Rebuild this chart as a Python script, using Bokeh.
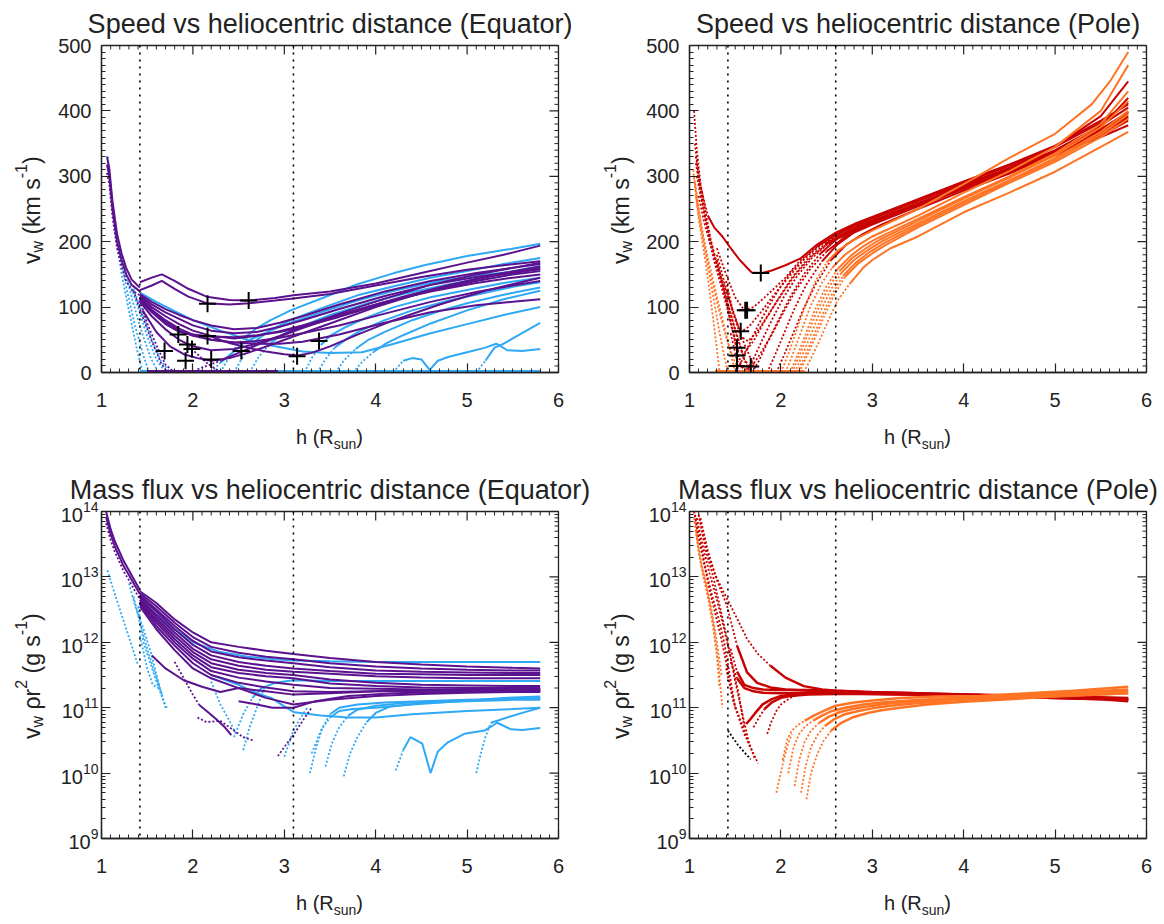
from math import pi
from bokeh.plotting import figure
from bokeh.models import Range1d, FixedTicker, Span, Div
from bokeh.layouts import column, row
from bokeh.embed import file_html
from bokeh.resources import INLINE

FONT = "Liberation Sans"
TXT = "#222222"
PURPLE = "#5b128e"
BLUE = "#2fa8f5"
RED = "#c80202"
ORANGE = "#ff7424"

# ======================= DATA =======================
# ---- Speed, equator (top left) ----
eq_sp_desc_h = [1.06, 1.085, 1.12, 1.17, 1.22, 1.27, 1.33, 1.42]
eq_sp_desc_v = [[330, 312, 262, 212, 182, 160, 142, 130],
                [318, 300, 250, 200, 172, 150, 134, 124],
                [305, 288, 238, 190, 162, 140, 126, 118]]
eq_sp_bdot_h = [[1.07, 1.15, 1.22, 1.3, 1.38, 1.45],
                [1.2, 1.28, 1.36, 1.45, 1.52],
                [1.25, 1.34, 1.44, 1.54, 1.62],
                [1.3, 1.4, 1.5, 1.6, 1.7],
                [1.35, 1.45, 1.55, 1.65, 1.75]]
eq_sp_bdot_v = [[330, 215, 150, 95, 40, 0],
                [180, 125, 75, 30, 0],
                [160, 110, 62, 22, 0],
                [140, 100, 55, 20, 0],
                [128, 90, 50, 18, 0]]
eq_sp_pdot_h = [[1.35, 1.45, 1.55, 1.65, 1.72],
                [1.42, 1.5, 1.6, 1.7, 1.8],
                [1.95, 2.05, 2.15, 2.25, 2.35]]
eq_sp_pdot_v = [[125, 85, 48, 15, 0],
                [110, 75, 42, 12, 0],
                [40, 28, 15, 5, 0]]
eq_sp_pur_h = [
    [1.42, 1.55, 1.66, 1.8, 1.95, 2.15, 2.4, 2.62, 2.9, 3.1, 3.5, 4.0, 4.5, 5.0, 5.4, 5.8],
    [1.42, 1.55, 1.66, 1.8, 1.95, 2.15, 2.4, 2.62, 2.9, 3.1, 3.5, 4.0, 4.5, 5.0, 5.4, 5.8],
    [1.42, 1.55, 1.7, 1.85, 2.0, 2.2, 2.45, 2.7, 2.95, 3.2, 3.6, 4.1, 4.6, 5.1, 5.5, 5.8],
    [1.42, 1.55, 1.7, 1.85, 2.0, 2.2, 2.45, 2.7, 2.95, 3.2, 3.6, 4.1, 4.6, 5.1, 5.5, 5.8],
    [1.42, 1.55, 1.7, 1.85, 2.0, 2.2, 2.45, 2.7, 2.95, 3.2, 3.6, 4.1, 4.6, 5.1, 5.5, 5.8],
    [1.42, 1.55, 1.7, 1.85, 2.0, 2.2, 2.45, 2.7, 2.95, 3.2, 3.6, 4.1, 4.6, 5.1, 5.5, 5.8],
    [1.42, 1.55, 1.7, 1.85, 2.0, 2.2, 2.45, 2.7, 2.95, 3.2, 3.6, 4.1, 4.6, 5.1, 5.5, 5.8],
    [1.42, 1.55, 1.7, 1.85, 2.0, 2.2, 2.45, 2.7, 2.95, 3.2, 3.6, 4.1, 4.6, 5.1, 5.5, 5.8],
    [1.42, 1.55, 1.7, 1.85, 2.0, 2.2, 2.45, 2.7, 2.95, 3.2, 3.6, 4.1, 4.6, 5.1, 5.5, 5.8],
    [1.45, 1.6, 1.75, 1.9, 2.05, 2.2, 2.4, 2.6, 2.85, 3.1, 3.5, 4.0, 4.5, 5.0, 5.4, 5.8],
    [2.05, 2.15, 2.3, 2.5, 2.7, 2.95, 3.2, 3.5, 3.9, 4.3, 4.8, 5.3, 5.8],
    [2.2, 2.4, 2.6, 2.8, 3.0, 3.15, 3.3, 3.5, 3.8, 4.2, 4.7, 5.2, 5.8],
]
eq_sp_pur_v = [
    [138, 145, 150, 140, 128, 116, 111, 110, 114, 118, 124, 136, 152, 168, 180, 194],
    [126, 133, 140, 128, 116, 106, 104, 106, 110, 113, 120, 133, 146, 157, 164, 170],
    [120, 108, 97, 88, 80, 72, 66, 68, 76, 86, 104, 124, 140, 152, 160, 166],
    [118, 104, 92, 82, 72, 64, 60, 62, 70, 80, 97, 117, 134, 146, 154, 160],
    [116, 100, 86, 74, 64, 56, 52, 56, 63, 72, 88, 108, 124, 137, 145, 150],
    [114, 96, 80, 67, 58, 50, 46, 48, 53, 60, 72, 90, 108, 123, 133, 140],
    [112, 94, 77, 64, 56, 50, 46, 44, 44, 47, 58, 76, 92, 103, 108, 112],
    [110, 92, 74, 62, 58, 55, 54, 57, 62, 70, 85, 106, 125, 140, 150, 155],
    [108, 86, 66, 50, 40, 34, 36, 44, 56, 70, 90, 113, 134, 150, 160, 168],
    [95, 62, 40, 28, 22, 18, 22, 30, 42, 55, 75, 100, 122, 140, 152, 162],
    [5, 10, 18, 30, 42, 55, 68, 82, 100, 116, 134, 148, 158],
    [55, 45, 38, 32, 28, 26, 30, 40, 58, 80, 104, 125, 145],
]
eq_sp_pur_dotted = [0, 0, 0, 0, 0, 0, 0, 0, 0, 0, 3, 0]
eq_sp_blu_h = [
    [1.42, 1.6, 1.8, 2.0, 2.3, 2.6, 2.9, 3.2, 3.5, 3.85, 4.2, 4.6, 5.0, 5.4, 5.8],
    [2.3, 2.42, 2.55, 2.7, 2.85, 3.07, 3.44, 3.8, 4.2, 4.53, 5.0, 5.48, 5.8],
    [2.45, 2.55, 2.68, 2.82, 2.95, 3.1, 3.44, 3.8, 4.2, 4.6, 5.0, 5.4, 5.8],
    [2.62, 2.72, 2.85, 2.98, 3.1, 3.25, 3.5, 3.9, 4.3, 4.7, 5.1, 5.5, 5.8],
    [3.22, 3.3, 3.4, 3.5, 3.65, 3.9, 4.2, 4.6, 5.0, 5.4, 5.8],
    [3.36, 3.45, 3.55, 3.7, 3.85, 4.1, 4.4, 4.8, 5.2, 5.5, 5.8],
    [3.56, 3.65, 3.78, 3.92, 4.1, 4.4, 4.7, 5.0, 5.4, 5.8],
    [3.75, 3.85, 3.98, 4.12, 4.3, 4.6, 5.0, 5.4, 5.8],
    [4.19, 4.3, 4.4, 4.5, 4.59, 4.68, 4.8, 5.0, 5.2, 5.32, 5.44, 5.6, 5.8],
    [5.1, 5.2, 5.3, 5.4, 5.5, 5.65, 5.8],
    [2.2, 2.3, 2.45, 2.56, 2.75, 2.95, 3.11, 3.4, 3.8, 4.2, 4.7, 5.2, 5.8],
]
eq_sp_blu_v = [
    [122, 108, 94, 80, 64, 50, 40, 32, 30, 31, 44, 60, 74, 88, 100],
    [0, 30, 52, 68, 80, 95, 115, 135, 152, 164, 178, 189, 197],
    [0, 25, 48, 62, 72, 82, 100, 118, 132, 145, 155, 166, 175],
    [0, 24, 45, 58, 66, 74, 88, 105, 120, 132, 143, 155, 163],
    [0, 22, 42, 56, 68, 84, 100, 115, 126, 137, 145],
    [0, 20, 38, 53, 65, 80, 95, 110, 122, 131, 138],
    [0, 18, 36, 50, 62, 80, 94, 106, 119, 130],
    [0, 16, 32, 45, 57, 75, 95, 112, 125],
    [0, 18, 22, 20, 4, 18, 24, 31, 38, 44, 34, 33, 36],
    [0, 18, 38, 44, 52, 64, 76],
    [0, 15, 32, 46, 58, 70, 78, 92, 110, 125, 140, 150, 158],
]
eq_sp_blu_dotted = [0, 3, 3, 3, 3, 3, 3, 3, 2, 2, 2]
eq_sp_zero_blue_h = [1.42, 5.8]
eq_sp_zero_pur_h = [1.5, 2.93]
eq_sp_cross_h = [2.16, 2.61, 1.84, 1.94, 1.99, 1.69, 1.92, 2.16, 2.2, 2.53, 3.14, 3.38]
eq_sp_cross_v = [105, 110, 58, 43, 36, 33, 18, 56, 20, 33, 25, 48]
eq_marks = [1.42, 3.1]

# ---- Speed, pole (top right) ----
po_sp_rdesc_h = [[1.05, 1.08, 1.12, 1.17, 1.23, 1.3, 1.38, 1.45, 1.52, 1.58],
                 [1.06, 1.1, 1.15, 1.2, 1.27, 1.34, 1.42, 1.48, 1.54],
                 [1.07, 1.11, 1.16, 1.22, 1.3, 1.38, 1.45, 1.52, 1.6, 1.66],
                 [1.08, 1.13, 1.19, 1.26, 1.33, 1.4, 1.47, 1.54, 1.6, 1.7],
                 [1.1, 1.16, 1.23, 1.31, 1.4, 1.5, 1.58, 1.68, 1.75]]
po_sp_rdesc_v = [[400, 340, 290, 250, 205, 165, 120, 80, 40, 0],
                 [350, 300, 255, 215, 170, 135, 95, 60, 20],
                 [320, 285, 245, 205, 165, 125, 90, 55, 20, 0],
                 [300, 265, 225, 185, 150, 115, 80, 48, 20, 0],
                 [270, 230, 195, 160, 125, 85, 50, 18, 0]]
po_sp_odesc_h = [[1.04, 1.07, 1.1, 1.14, 1.18, 1.22, 1.26, 1.3, 1.33],
                 [1.05, 1.09, 1.13, 1.18, 1.23, 1.28, 1.33, 1.38, 1.42],
                 [1.06, 1.1, 1.15, 1.2, 1.26, 1.32, 1.38, 1.44, 1.5],
                 [1.07, 1.12, 1.17, 1.22, 1.28, 1.34, 1.4, 1.47, 1.55]]
po_sp_odesc_v = [[310, 270, 235, 200, 165, 125, 80, 35, 0],
                 [300, 260, 222, 180, 140, 100, 60, 25, 0],
                 [290, 250, 210, 175, 140, 105, 70, 35, 0],
                 [270, 225, 190, 155, 120, 85, 55, 25, 0]]
po_sp_red_h = [
    [1.07, 1.12, 1.2, 1.27, 1.36, 1.44, 1.55, 1.68, 1.79, 1.9, 2.05, 2.21, 2.4, 2.6, 2.8, 3.0, 3.5, 4.0, 4.5, 5.0, 5.5, 5.8],
    [1.3, 1.4, 1.5, 1.6, 1.7, 1.8, 1.9, 2.05, 2.2, 2.4, 2.6, 2.8, 3.0, 3.5, 4.0, 4.5, 5.0, 5.5, 5.8],
    [1.3, 1.4, 1.48, 1.56, 1.65, 1.78, 1.92, 2.08, 2.25, 2.42, 2.6, 2.8, 3.0, 3.5, 4.0, 4.5, 5.0, 5.5, 5.8],
    [1.3, 1.38, 1.45, 1.52, 1.6, 1.7, 1.82, 1.96, 2.12, 2.3, 2.48, 2.65, 2.85, 3.0, 3.5, 4.0, 4.5, 5.0, 5.5, 5.8],
    [1.45, 1.52, 1.6, 1.68, 1.78, 1.9, 2.02, 2.16, 2.32, 2.5, 2.68, 2.85, 3.0, 3.5, 4.0, 4.5, 5.0, 5.5, 5.8],
    [1.68, 1.76, 1.86, 1.98, 2.1, 2.25, 2.42, 2.6, 2.8, 3.0, 3.5, 4.0, 4.5, 5.0, 5.5, 5.8],
    [1.85, 1.93, 2.02, 2.14, 2.28, 2.45, 2.62, 2.8, 3.0, 3.5, 4.0, 4.5, 5.0, 5.5, 5.8],
    [1.95, 2.03, 2.12, 2.24, 2.38, 2.55, 2.72, 2.9, 3.1, 3.5, 4.0, 4.5, 5.0, 5.5, 5.8],
    [1.5, 1.58, 1.66, 1.75, 1.86, 1.98, 2.12, 2.28, 2.45, 2.62, 2.8, 3.0, 3.5, 4.0, 4.5, 5.0, 5.5, 5.8],
    [1.6, 1.68, 1.78, 1.9, 2.03, 2.18, 2.34, 2.5, 2.66, 2.85, 3.0, 3.5, 4.0, 4.5, 5.0, 5.5, 5.8],
    [1.4, 1.48, 1.56, 1.64, 1.74, 1.86, 2.0, 2.16, 2.34, 2.52, 2.7, 2.9, 3.1, 3.5, 4.0, 4.5, 5.0, 5.5, 5.8],
]
po_sp_red_v = [
    [330, 285, 240, 222, 208, 192, 172, 153, 152, 156, 164, 174, 196, 214, 227, 238, 265, 292, 318, 347, 385, 410],
    [190, 150, 115, 95, 100, 112, 125, 145, 170, 193, 211, 225, 237, 264, 290, 316, 345, 382, 412],
    [180, 128, 90, 62, 70, 92, 118, 145, 172, 195, 210, 224, 235, 262, 288, 312, 338, 370, 392],
    [172, 125, 75, 35, 30, 48, 78, 110, 145, 175, 196, 210, 224, 232, 259, 284, 309, 334, 360, 378],
    [60, 18, 4, 9, 30, 58, 90, 125, 158, 185, 205, 218, 228, 256, 282, 307, 332, 362, 385],
    [0, 18, 48, 82, 115, 150, 180, 203, 219, 230, 258, 286, 313, 345, 392, 445],
    [0, 25, 55, 95, 135, 170, 196, 214, 226, 254, 281, 306, 333, 368, 398],
    [0, 25, 55, 95, 135, 172, 196, 212, 226, 250, 278, 304, 335, 375, 420],
    [0, 20, 45, 72, 100, 128, 155, 178, 196, 208, 220, 231, 258, 284, 310, 338, 372, 398],
    [0, 15, 45, 80, 115, 148, 175, 195, 207, 220, 229, 256, 283, 309, 337, 365, 390],
    [140, 90, 55, 48, 62, 88, 118, 150, 178, 198, 212, 224, 234, 258, 285, 311, 340, 378, 405],
]
po_sp_red_dotted = [3, 10, 10, 11, 10, 7, 6, 6, 10, 9, 10]
po_sp_ora_h = [
    [2.0, 2.08, 2.16, 2.26, 2.38, 2.5, 2.62, 2.8, 3.0, 3.5, 4.0, 4.5, 5.0, 5.4, 5.6, 5.8],
    [2.05, 2.13, 2.22, 2.32, 2.44, 2.56, 2.7, 2.85, 3.0, 3.5, 4.0, 4.5, 5.0, 5.5, 5.8],
    [2.1, 2.18, 2.27, 2.37, 2.49, 2.62, 2.76, 2.9, 3.05, 3.5, 4.0, 4.5, 5.0, 5.5, 5.8],
    [2.15, 2.23, 2.32, 2.42, 2.54, 2.66, 2.8, 2.95, 3.1, 3.5, 4.0, 4.5, 5.0, 5.5, 5.8],
    [2.2, 2.28, 2.37, 2.47, 2.58, 2.7, 2.84, 3.0, 3.15, 3.5, 4.0, 4.5, 5.0, 5.5, 5.8],
    [2.25, 2.33, 2.42, 2.52, 2.62, 2.75, 2.9, 3.0, 3.2, 3.5, 4.0, 4.5, 5.0, 5.5, 5.8],
    [2.12, 2.2, 2.29, 2.39, 2.51, 2.64, 2.78, 2.93, 3.08, 3.5, 4.0, 4.5, 5.0, 5.5, 5.8],
    [2.18, 2.26, 2.35, 2.45, 2.56, 2.68, 2.82, 2.97, 3.12, 3.5, 4.0, 4.5, 5.0, 5.5, 5.8],
]
po_sp_ora_v = [
    [0, 28, 60, 100, 140, 168, 186, 203, 217, 250, 288, 328, 365, 410, 445, 490],
    [0, 28, 62, 100, 135, 160, 180, 195, 208, 240, 275, 308, 345, 400, 470],
    [0, 26, 58, 95, 130, 158, 178, 193, 205, 235, 268, 300, 335, 380, 430],
    [0, 25, 55, 90, 125, 152, 172, 187, 200, 228, 262, 294, 328, 368, 400],
    [0, 24, 52, 85, 118, 146, 166, 182, 195, 222, 256, 290, 322, 360, 388],
    [0, 22, 48, 80, 110, 135, 160, 172, 190, 208, 245, 275, 307, 345, 368],
    [0, 25, 57, 92, 127, 155, 175, 190, 203, 232, 266, 298, 332, 375, 415],
    [0, 24, 53, 87, 120, 148, 168, 184, 197, 225, 259, 292, 325, 364, 395],
]
po_sp_ora_dotted = [6, 6, 6, 6, 6, 6, 6, 6]
po_sp_zero_ora_h = [1.28, 2.25]
po_sp_cross_h = [1.78, 1.61, 1.63, 1.56, 1.52, 1.52, 1.52, 1.67]
po_sp_cross_v = [152, 95, 95, 63, 38, 26, 10, 9]
po_marks = [1.42, 2.6]

# ---- Mass flux, equator (bottom left), log10 of g/s ----
eq_mf_desc_h = [1.05, 1.1, 1.15, 1.19, 1.24, 1.3, 1.36, 1.42]
eq_mf_desc_lg = [[14.0, 13.73, 13.53, 13.41, 13.25, 13.1, 12.95, 12.8],
                 [13.92, 13.65, 13.45, 13.33, 13.17, 13.03, 12.88, 12.74],
                 [13.82, 13.56, 13.37, 13.25, 13.09, 12.95, 12.8, 12.66]]
eq_mf_bdot_h = [[1.065, 1.12, 1.19, 1.26, 1.33, 1.4],
                [1.3, 1.38, 1.46, 1.55, 1.62, 1.7],
                [1.35, 1.42, 1.5, 1.58, 1.66],
                [1.4, 1.46, 1.53, 1.6, 1.68, 1.72],
                [1.42, 1.5, 1.56, 1.62],
                [2.2, 2.3, 2.4, 2.47],
                [2.55, 2.62, 2.7, 2.78],
                [3.0, 3.05, 3.1, 3.18, 3.25]]
eq_mf_bdot_lg = [[13.1, 12.85, 12.55, 12.25, 11.95, 11.65],
                 [12.9, 12.5, 12.2, 11.8, 11.4, 11.0],
                 [12.7, 12.3, 11.9, 11.55, 11.2],
                 [12.55, 12.0, 11.7, 11.4, 11.1, 10.98],
                 [12.1, 11.6, 11.35, 11.3],
                 [11.4, 11.05, 10.8, 10.6],
                 [10.35, 10.7, 11.0, 11.3],
                 [10.25, 10.45, 10.65, 10.85, 11.0]]
eq_mf_pur_h = [
    [1.42, 1.6, 1.8, 2.0, 2.2, 2.5, 2.8, 3.1, 3.5, 4.0, 4.5, 5.0, 5.5, 5.8],
    [1.42, 1.6, 1.8, 2.0, 2.2, 2.5, 2.8, 3.1, 3.5, 4.0, 4.5, 5.0, 5.5, 5.8],
    [1.42, 1.6, 1.8, 2.0, 2.2, 2.5, 2.8, 3.1, 3.5, 4.0, 4.5, 5.0, 5.5, 5.8],
    [1.42, 1.6, 1.8, 2.0, 2.2, 2.5, 2.8, 3.1, 3.5, 4.0, 4.5, 5.0, 5.5, 5.8],
    [1.42, 1.6, 1.8, 2.0, 2.2, 2.5, 2.8, 3.1, 3.5, 4.0, 4.5, 5.0, 5.5, 5.8],
    [1.42, 1.6, 1.8, 2.0, 2.2, 2.5, 2.8, 3.1, 3.5, 4.0, 4.5, 5.0, 5.5, 5.8],
    [1.42, 1.6, 1.8, 2.0, 2.2, 2.5, 2.8, 3.1, 3.5, 4.0, 4.5, 5.0, 5.5, 5.8],
    [1.42, 1.6, 1.8, 2.0, 2.2, 2.5, 2.8, 3.1, 3.5, 4.0, 4.5, 5.0, 5.5, 5.8],
    [1.42, 1.6, 1.8, 2.0, 2.2, 2.5, 2.8, 3.1, 3.5, 4.0, 4.5, 5.0, 5.5, 5.8],
    [1.42, 1.6, 1.8, 2.0, 2.2, 2.5, 2.8, 3.1, 3.5, 4.0, 4.5, 5.0, 5.5, 5.8],
    [1.55, 1.7, 1.9, 2.1, 2.3, 2.5, 2.8, 3.1, 3.5, 4.0, 4.5, 5.0, 5.5, 5.8],
    [1.8, 1.9, 2.0, 2.07, 2.15, 2.25, 2.35, 2.42],
    [2.05, 2.15, 2.3, 2.45, 2.55, 2.66],
    [2.93, 3.0, 3.1, 3.2, 3.3],
    [2.5, 2.7, 2.87, 3.1, 3.34, 3.7, 4.2, 4.8, 5.4, 5.8],
]
eq_mf_pur_lg = [
    [12.78, 12.6, 12.35, 12.15, 12.0, 11.93, 11.87, 11.82, 11.76, 11.7, 11.66, 11.63, 11.61, 11.6],
    [12.75, 12.55, 12.3, 12.08, 11.93, 11.84, 11.78, 11.74, 11.68, 11.63, 11.6, 11.58, 11.57, 11.57],
    [12.72, 12.5, 12.25, 12.02, 11.86, 11.77, 11.72, 11.68, 11.62, 11.57, 11.55, 11.54, 11.53, 11.53],
    [12.7, 12.47, 12.2, 11.96, 11.8, 11.7, 11.64, 11.6, 11.56, 11.52, 11.51, 11.5, 11.5, 11.5],
    [12.68, 12.42, 12.15, 11.9, 11.74, 11.64, 11.58, 11.55, 11.52, 11.48, 11.46, 11.45, 11.45, 11.45],
    [12.65, 12.38, 12.1, 11.85, 11.68, 11.58, 11.53, 11.5, 11.43, 11.38, 11.35, 11.34, 11.33, 11.33],
    [12.62, 12.34, 12.05, 11.8, 11.62, 11.53, 11.48, 11.45, 11.37, 11.33, 11.31, 11.3, 11.3, 11.3],
    [12.6, 12.3, 12.0, 11.75, 11.56, 11.46, 11.4, 11.35, 11.3, 11.29, 11.28, 11.28, 11.28, 11.28],
    [12.58, 12.25, 11.95, 11.68, 11.5, 11.38, 11.31, 11.25, 11.24, 11.25, 11.26, 11.26, 11.26, 11.26],
    [12.55, 12.2, 11.88, 11.6, 11.45, 11.3, 11.15, 11.05, 11.12, 11.18, 11.21, 11.23, 11.24, 11.24],
    [11.8, 11.6, 11.42, 11.32, 11.24, 11.3, 11.25, 11.2, 11.22, 11.25, 11.26, 11.27, 11.28, 11.28],
    [11.7, 11.45, 11.2, 11.04, 10.95, 10.83, 10.7, 10.58],
    [10.85, 10.78, 10.8, 10.65, 10.55, 10.5],
    [10.26, 10.4, 10.58, 10.8, 11.0],
    [11.1, 11.05, 11.0, 11.0, 11.1, 11.18, 11.22, 11.24, 11.25, 11.25],
]
eq_mf_pur_dotted = [0, 0, 0, 0, 0, 0, 0, 0, 0, 0, 0, 4, 99, 99, 0]
eq_mf_blu_h = [
    [1.42, 1.7, 2.0, 2.3, 2.6, 2.9, 3.1, 3.5, 4.0, 4.5, 5.0, 5.5, 5.8],
    [3.28, 3.35, 3.42, 3.5, 3.6, 3.8, 4.1, 4.5, 5.0, 5.4, 5.8],
    [3.45, 3.52, 3.6, 3.7, 3.8, 4.0, 4.3, 4.7, 5.2, 5.8],
    [3.65, 3.72, 3.8, 3.9, 4.0, 4.16, 4.5, 5.0, 5.5, 5.8],
    [3.3, 3.4, 3.5, 3.6, 3.75, 4.0, 4.4, 4.9, 5.4, 5.8],
    [2.2, 2.5, 2.7, 2.87, 3.0, 3.11, 3.4, 3.7, 4.0, 4.4, 5.0, 5.5, 5.8],
    [4.22, 4.3, 4.38, 4.51, 4.56, 4.6, 4.68, 4.79, 4.97, 5.19, 5.33, 5.48, 5.6, 5.8],
    [5.1, 5.15, 5.2, 5.26, 5.33, 5.48, 5.65, 5.8],
    [2.45, 2.55, 2.65, 2.75, 2.9, 3.1, 3.5, 4.0, 5.0, 5.8],
]
eq_mf_blu_lg = [
    [12.65, 12.3, 12.0, 11.85, 11.78, 11.74, 11.72, 11.71, 11.7, 11.7, 11.7, 11.7, 11.7],
    [10.0, 10.4, 10.7, 10.9, 11.0, 11.05, 11.08, 11.1, 11.12, 11.13, 11.15],
    [10.1, 10.45, 10.7, 10.88, 10.97, 11.03, 11.07, 11.1, 11.12, 11.14],
    [9.95, 10.3, 10.55, 10.78, 10.92, 11.02, 11.07, 11.1, 11.12, 11.12],
    [10.3, 10.65, 10.85, 10.95, 10.98, 11.0, 11.05, 11.1, 11.15, 11.17],
    [11.5, 11.35, 11.22, 11.14, 11.02, 10.93, 10.88, 10.85, 10.85, 10.9, 10.95, 10.98, 11.0],
    [10.04, 10.35, 10.55, 10.45, 10.2, 10.0, 10.33, 10.47, 10.6, 10.65, 10.77, 10.67, 10.66, 10.69],
    [10.0, 10.3, 10.55, 10.77, 10.8, 10.87, 10.94, 11.0],
    [10.55, 10.9, 11.15, 11.3, 11.38, 11.42, 11.41, 11.41, 11.41, 11.41],
]
eq_mf_blu_dotted = [0, 4, 4, 4, 3, 0, 2, 4, 3]

# ---- Mass flux, pole (bottom right), log10 of g/s ----
po_mf_rdesc_h = [[1.05, 1.1, 1.16, 1.22, 1.28, 1.34, 1.4, 1.45],
                 [1.06, 1.12, 1.18, 1.25, 1.32, 1.38, 1.44, 1.5],
                 [1.08, 1.15, 1.22, 1.3, 1.38, 1.46, 1.54, 1.6],
                 [1.1, 1.18, 1.26, 1.34, 1.42, 1.5, 1.58, 1.66],
                 [1.45, 1.5, 1.55, 1.6, 1.65, 1.7, 1.75],
                 [1.4, 1.48, 1.56, 1.64, 1.72],
                 [1.85, 1.9, 1.95, 2.0, 2.1, 2.2, 2.4]]
po_mf_rdesc_lg = [[14.0, 13.6, 13.2, 12.8, 12.45, 12.1, 11.7, 11.3],
                  [13.95, 13.55, 13.1, 12.7, 12.35, 12.0, 11.5, 11.0],
                  [13.9, 13.45, 13.05, 12.65, 12.2, 11.7, 11.2, 10.7],
                  [13.95, 13.4, 13.0, 12.5, 12.0, 11.4, 10.9, 10.4],
                  [11.3, 11.0, 10.8, 10.6, 10.45, 10.3, 10.15],
                  [11.6, 11.1, 10.8, 10.5, 10.2],
                  [10.6, 10.8, 10.95, 11.05, 11.15, 11.2, 11.22]]
po_mf_odesc_h = [[1.05, 1.1, 1.15, 1.2, 1.25, 1.3, 1.33],
                 [1.06, 1.11, 1.17, 1.22, 1.27, 1.32, 1.36],
                 [1.07, 1.13, 1.19, 1.24, 1.3, 1.35]]
po_mf_odesc_lg = [[13.9, 13.4, 13.0, 12.7, 12.3, 11.8, 11.3],
                  [13.85, 13.3, 12.95, 12.6, 12.2, 11.6, 11.0],
                  [13.7, 13.2, 12.85, 12.5, 12.0, 11.5]]
po_mf_black_h = [1.42, 1.47, 1.53, 1.6, 1.67]
po_mf_black_lg = [10.65, 10.55, 10.43, 10.32, 10.21]
po_mf_red_h = [
    [1.1, 1.2, 1.27, 1.36, 1.45, 1.55, 1.63, 1.75, 1.886, 2.05, 2.25, 2.45, 2.6, 2.9, 3.5, 4.0, 4.5, 5.0, 5.5, 5.8],
    [1.12, 1.2, 1.3, 1.41, 1.52, 1.63, 1.74, 1.886, 2.05, 2.3, 2.6, 3.0, 3.5, 4.0, 4.5, 5.0, 5.5, 5.8],
    [1.45, 1.52, 1.6, 1.7, 1.8, 2.0, 2.3, 2.6, 3.0, 3.5, 4.0, 4.5, 5.0, 5.5, 5.8],
    [1.45, 1.52, 1.6, 1.7, 1.8, 2.0, 2.3, 2.6, 3.0, 3.5, 4.0, 4.5, 5.0, 5.5, 5.8],
    [1.62, 1.67, 1.72, 1.8, 1.9, 2.0, 2.2, 2.5, 2.8, 3.2, 3.7, 4.2, 4.7, 5.2, 5.8],
    [1.7, 1.76, 1.82, 1.9, 2.0, 2.1, 2.3, 2.6, 3.0, 3.5, 4.0, 4.5, 5.0, 5.5, 5.8],
]
po_mf_red_lg = [
    [13.95, 13.35, 13.07, 12.8, 12.56, 12.28, 12.05, 11.82, 11.64, 11.46, 11.33, 11.28, 11.26, 11.24, 11.22, 11.2, 11.18, 11.17, 11.15, 11.14],
    [13.9, 13.4, 12.95, 12.56, 11.95, 11.54, 11.38, 11.31, 11.28, 11.26, 11.25, 11.23, 11.21, 11.2, 11.18, 11.17, 11.16, 11.15],
    [11.9, 11.55, 11.35, 11.3, 11.28, 11.27, 11.27, 11.26, 11.24, 11.22, 11.2, 11.19, 11.17, 11.15, 11.13],
    [11.7, 11.45, 11.3, 11.25, 11.23, 11.22, 11.22, 11.22, 11.21, 11.2, 11.19, 11.17, 11.16, 11.14, 11.12],
    [10.75, 10.83, 10.92, 11.05, 11.13, 11.18, 11.21, 11.22, 11.22, 11.21, 11.2, 11.18, 11.16, 11.14, 11.12],
    [10.7, 10.85, 10.98, 11.08, 11.15, 11.18, 11.2, 11.21, 11.21, 11.2, 11.19, 11.17, 11.15, 11.13, 11.1],
]
po_mf_red_dotted = [9, 5, 2, 2, 0, 3]
po_mf_ora_h = [
    [2.02, 2.07, 2.12, 2.18, 2.26, 2.36, 2.48, 2.6, 2.8, 3.0, 3.31, 3.7, 4.18, 4.7, 5.2, 5.8],
    [2.08, 2.14, 2.2, 2.27, 2.35, 2.45, 2.56, 2.7, 2.9, 3.1, 3.4, 3.8, 4.3, 4.8, 5.3, 5.8],
    [2.15, 2.2, 2.26, 2.33, 2.42, 2.52, 2.64, 2.78, 2.95, 3.15, 3.5, 3.9, 4.4, 4.9, 5.4, 5.8],
    [2.22, 2.27, 2.33, 2.4, 2.48, 2.58, 2.7, 2.85, 3.0, 3.2, 3.5, 3.9, 4.4, 4.9, 5.4, 5.8],
    [2.28, 2.33, 2.4, 2.47, 2.55, 2.65, 2.78, 2.95, 3.1, 3.3, 3.6, 4.0, 4.5, 5.0, 5.5, 5.8],
    [1.95, 1.99, 2.03, 2.08, 2.12],
]
po_mf_ora_lg = [
    [10.2, 10.52, 10.65, 10.73, 10.8, 10.88, 10.96, 11.03, 11.08, 11.11, 11.15, 11.17, 11.18, 11.22, 11.26, 11.32],
    [10.0, 10.4, 10.6, 10.72, 10.8, 10.88, 10.95, 11.0, 11.05, 11.08, 11.11, 11.14, 11.17, 11.2, 11.24, 11.28],
    [9.8, 10.2, 10.48, 10.65, 10.77, 10.86, 10.93, 10.98, 11.02, 11.06, 11.1, 11.13, 11.16, 11.19, 11.22, 11.25],
    [9.7, 10.1, 10.4, 10.58, 10.72, 10.82, 10.9, 10.95, 10.99, 11.03, 11.07, 11.1, 11.14, 11.17, 11.2, 11.22],
    [9.6, 10.0, 10.3, 10.5, 10.65, 10.76, 10.85, 10.92, 10.96, 11.0, 11.05, 11.09, 11.13, 11.17, 11.2, 11.22],
    [9.7, 9.95, 10.2, 10.45, 10.6],
]
po_mf_ora_dotted = [5, 5, 5, 5, 5, 99]

TITLES = ["Speed vs heliocentric distance (Equator)",
          "Speed vs heliocentric distance (Pole)",
          "Mass flux vs heliocentric distance (Equator)",
          "Mass flux vs heliocentric distance (Pole)"]

# ======================= HELPERS =======================
YSUB = '<sub style="font-size:16px;vertical-align:-6px;line-height:0">{}</sub>'
YSUP = '<sup style="font-size:16px;vertical-align:10px;line-height:0">{}</sup>'
XSUB = '<sub style="font-size:14px;vertical-align:-5px;line-height:0">{}</sub>'
SPEED_LABEL = "v" + YSUB.format("w") + " (km s" + YSUP.format("-1") + ")"
FLUX_LABEL = ("v" + YSUB.format("w") + " ρr" + YSUP.format("2") + " (g s"
              + YSUP.format("-1") + ")")
X_LABEL = "h (R" + XSUB.format("sun") + ")"
BASE_CSS = f"font-family:'{FONT}';color:{TXT};white-space:nowrap;"

X_MAJOR = [1, 2, 3, 4, 5, 6]
X_MINOR = [1 + i / 10 for i in range(51) if i % 10]
SP_MAJOR = [0, 100, 200, 300, 400, 500]
SP_MINOR = [i * 10 for i in range(51) if i % 10]
LG_MAJOR = [10.0 ** k for k in range(9, 15)]
LG_MINOR = [m * 10.0 ** k for k in range(9, 14) for m in range(2, 10)]

FRAME_W, FRAME_H = 457, 327


def draw(p, hs, vs, dotted, color, log=False, width=2.0):
    sx, sy, dx, dy = [], [], [], []
    for h, v, n in zip(hs, vs, dotted):
        yy = [10 ** e for e in v] if log else list(v)
        if n > 0:
            dx.append(h[:n]); dy.append(yy[:n])
        if n < len(h):
            s = max(n - 1, 0)
            sx.append(h[s:]); sy.append(yy[s:])
    if sx:
        p.multi_line(sx, sy, line_color=color, line_width=width)
    if dx:
        p.multi_line(dx, dy, line_color=color, line_width=1.8, line_dash="2 2")


def style_axis(ax, standoff):
    ax.major_tick_in = 9
    ax.major_tick_out = 0
    ax.minor_tick_in = 4
    ax.minor_tick_out = 0
    ax.axis_line_color = TXT
    ax.axis_line_width = 1.3
    ax.major_tick_line_color = TXT
    ax.major_tick_line_width = 1.2
    ax.minor_tick_line_color = TXT
    ax.minor_tick_line_width = 1.0
    ax.major_label_text_font = FONT
    ax.major_label_text_color = TXT
    ax.major_label_text_font_size = "20px"
    ax.major_label_standoff = standoff
    ax.axis_label = None


def mirror_ticks(p, ytop, xright, ymaj, ymin):
    p.scatter(X_MAJOR, [ytop] * len(X_MAJOR), marker="dash", angle=pi / 2, size=18,
              line_color=TXT, line_width=1.2)
    p.scatter(X_MINOR, [ytop] * len(X_MINOR), marker="dash", angle=pi / 2, size=8,
              line_color=TXT, line_width=1.0)
    p.scatter([xright] * len(ymaj), ymaj, marker="dash", size=18,
              line_color=TXT, line_width=1.2)
    p.scatter([xright] * len(ymin), ymin, marker="dash", size=8,
              line_color=TXT, line_width=1.0)


def make_fig(log, bl, br, title):
    common = dict(width=bl + FRAME_W + br, height=45 + FRAME_H + 52,
                  x_range=Range1d(1, 6), output_backend="svg", toolbar_location=None,
                  min_border_left=bl, min_border_right=br,
                  min_border_top=45, min_border_bottom=52, title=title)
    if log:
        p = figure(y_range=Range1d(1e9, 1e14), y_axis_type="log", **common)
        p.yaxis[0].ticker = FixedTicker(ticks=LG_MAJOR, minor_ticks=LG_MINOR)
        style_axis(p.yaxis[0], 3)
        mirror_ticks(p, 1e14, 6, LG_MAJOR, LG_MINOR)
    else:
        p = figure(y_range=Range1d(0, 500), **common)
        p.yaxis[0].ticker = FixedTicker(ticks=SP_MAJOR, minor_ticks=SP_MINOR)
        style_axis(p.yaxis[0], 10)
        mirror_ticks(p, 500, 6, SP_MAJOR, SP_MINOR)
    p.xaxis[0].ticker = FixedTicker(ticks=X_MAJOR, minor_ticks=X_MINOR)
    style_axis(p.xaxis[0], 20)
    p.xgrid.visible = False
    p.ygrid.visible = False
    p.outline_line_color = TXT
    p.outline_line_width = 1.3
    p.title.align = "center"
    p.title.text_font = FONT
    p.title.text_font_size = "27px"
    p.title.text_font_style = "normal"
    p.title.text_color = TXT
    p.title.standoff = 13
    return p


def ylabel_div(html, height):
    inner = (f'<div style="padding-left:19px;padding-top:47px;">'
             f'<div style="width:26px;height:{FRAME_H}px;line-height:26px;'
             f'writing-mode:vertical-rl;transform:rotate(180deg);text-align:center;'
             f'font-size:23px;{BASE_CSS}">{html}</div></div>')
    return Div(text=inner, width=50, height=height, margin=0)


def xlabel_div(bl, width, height):
    inner = (f'<div style="padding-left:{bl}px;padding-top:2px;">'
             f'<div style="width:{FRAME_W}px;text-align:center;line-height:22px;'
             f'font-size:20px;{BASE_CSS}">{X_LABEL}</div></div>')
    return Div(text=inner, width=width, height=height, margin=0)


def vmarks(p, locs):
    for loc in locs:
        p.add_layout(Span(location=loc, dimension="height", line_color="black",
                          line_width=1.6, line_dash="2 5"))


def quadrant(p, bl, br, ylab, xlab_h):
    fig_h = 45 + FRAME_H + 52
    return row(ylabel_div(ylab, fig_h + xlab_h),
               column(p, xlabel_div(bl, bl + FRAME_W + br, xlab_h)))


# ======================= PANELS =======================
p1 = make_fig(False, 51, 31, TITLES[0])
vmarks(p1, eq_marks)
draw(p1, eq_sp_bdot_h, eq_sp_bdot_v, [99] * len(eq_sp_bdot_h), BLUE)
draw(p1, eq_sp_blu_h, eq_sp_blu_v, eq_sp_blu_dotted, BLUE)
draw(p1, [eq_sp_desc_h] * 3, eq_sp_desc_v, [0, 0, 99], PURPLE)
draw(p1, eq_sp_pdot_h, eq_sp_pdot_v, [99] * len(eq_sp_pdot_h), PURPLE)
draw(p1, eq_sp_pur_h, eq_sp_pur_v, eq_sp_pur_dotted, PURPLE)
p1.line(eq_sp_zero_blue_h, [0, 0], line_color=BLUE, line_width=5)
p1.line(eq_sp_zero_pur_h, [0, 0], line_color=PURPLE, line_width=5)
p1.scatter(eq_sp_cross_h, eq_sp_cross_v, marker="cross", size=17,
           line_color="black", line_width=2)

p2 = make_fig(False, 50, 16, TITLES[1])
vmarks(p2, po_marks)
draw(p2, po_sp_odesc_h, po_sp_odesc_v, [99] * len(po_sp_odesc_h), ORANGE)
draw(p2, po_sp_rdesc_h, po_sp_rdesc_v, [99] * len(po_sp_rdesc_h), RED)
draw(p2, po_sp_red_h, po_sp_red_v, po_sp_red_dotted, RED)
draw(p2, po_sp_ora_h, po_sp_ora_v, po_sp_ora_dotted, ORANGE)
p2.line(po_sp_zero_ora_h, [0, 0], line_color=ORANGE, line_width=5)
p2.scatter(po_sp_cross_h, po_sp_cross_v, marker="cross", size=17,
           line_color="black", line_width=2)

p3 = make_fig(True, 51, 31, TITLES[2])
vmarks(p3, eq_marks)
draw(p3, eq_mf_bdot_h, eq_mf_bdot_lg, [99] * len(eq_mf_bdot_h), BLUE, log=True)
draw(p3, eq_mf_blu_h, eq_mf_blu_lg, eq_mf_blu_dotted, BLUE, log=True)
draw(p3, [eq_mf_desc_h] * 3, eq_mf_desc_lg, [0, 0, 99], PURPLE, log=True)
draw(p3, eq_mf_pur_h, eq_mf_pur_lg, eq_mf_pur_dotted, PURPLE, log=True)

p4 = make_fig(True, 50, 16, TITLES[3])
vmarks(p4, po_marks)
draw(p4, po_mf_odesc_h, po_mf_odesc_lg, [99] * len(po_mf_odesc_h), ORANGE, log=True)
draw(p4, po_mf_rdesc_h, po_mf_rdesc_lg, [99] * len(po_mf_rdesc_h), RED, log=True)
draw(p4, [po_mf_black_h], [po_mf_black_lg], [99], "black", log=True)
draw(p4, po_mf_red_h, po_mf_red_lg, po_mf_red_dotted, RED, log=True, width=2.5)
draw(p4, po_mf_ora_h, po_mf_ora_lg, po_mf_ora_dotted, ORANGE, log=True, width=2.5)

layout = column(
    row(quadrant(p1, 51, 31, SPEED_LABEL, 42), quadrant(p2, 50, 16, SPEED_LABEL, 42)),
    row(quadrant(p3, 51, 31, FLUX_LABEL, 32), quadrant(p4, 50, 16, FLUX_LABEL, 32)),
)
open("out.html", "w").write(file_html(layout, INLINE))
